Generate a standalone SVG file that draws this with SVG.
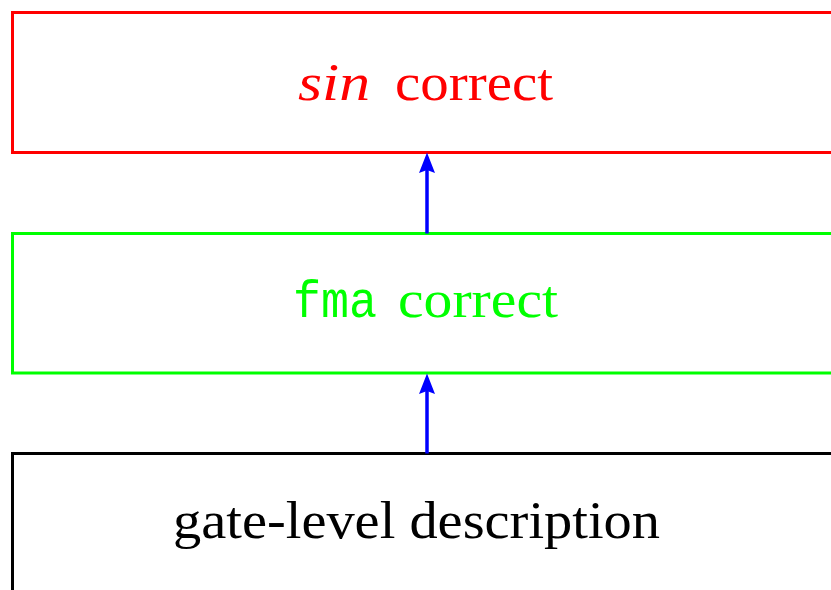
<svg xmlns="http://www.w3.org/2000/svg" width="831" height="590" viewBox="0 0 831 590">
<style>
.box{fill:none;stroke-width:3}
.t{font-family:"Liberation Serif",serif;font-size:52px}
.mono{font-family:"Liberation Mono",monospace}
.conn{stroke:#0000ff;stroke-width:3.5;fill:none}
.head{fill:#0000ff}
</style>
<rect width="831" height="590" fill="#ffffff"/>
<g id="sin">
<rect class="box" x="12.5" y="12.5" width="840" height="140" stroke="#ff0000"/>
<text class="t" y="100" fill="#ff0000"><tspan x="298" font-style="italic" textLength="72" lengthAdjust="spacingAndGlyphs">sin</tspan><tspan x="395" textLength="158" lengthAdjust="spacingAndGlyphs">correct</tspan></text>
</g>
<g id="fma">
<rect class="box" x="12.5" y="233.5" width="840" height="139.5" stroke="#00ff00"/>
<text class="t" y="317" fill="#00ff00"><tspan x="293" class="mono" textLength="84" lengthAdjust="spacingAndGlyphs">fma</tspan><tspan x="398" textLength="160" lengthAdjust="spacingAndGlyphs">correct</tspan></text>
</g>
<g id="gate">
<rect class="box" x="12.5" y="453.5" width="840" height="160" stroke="#000000"/>
<text class="t" x="173" y="538" fill="#000000" textLength="487" lengthAdjust="spacingAndGlyphs">gate-level description</text>
</g>
<g id="connectors">
<line class="conn" x1="427" y1="233.5" x2="427" y2="170"/>
<polygon class="head" points="427,152.5 435,173 427,170 419,173"/>
<line class="conn" x1="427" y1="453.5" x2="427" y2="391"/>
<polygon class="head" points="427,373.5 435,394 427,391 419,394"/>
</g>
</svg>
